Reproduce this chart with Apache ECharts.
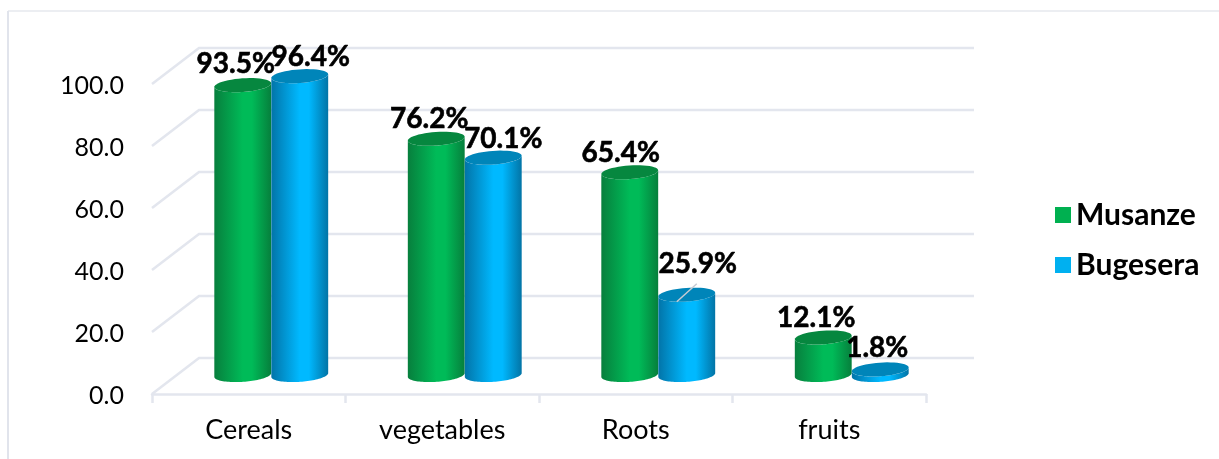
<!DOCTYPE html>
<html><head><meta charset="utf-8">
<style>html,body{margin:0;padding:0;background:#fff}#c{width:1219px;height:459px}</style>
<script src="https://cdn.jsdelivr.net/npm/echarts@6/dist/echarts.min.js"></script>
</head><body><div id="c"></div>
<script>
const categories = ['Cereals', 'vegetables', 'Roots', 'fruits'];
const musanze = [93.5, 76.2, 65.4, 12.1];
const bugesera = [96.4, 70.1, 25.9, 1.8];
const yTicks = [0, 20, 40, 60, 80, 100];

// Styling only: label nudges per bar [dx, dy], relative to the bar top
const musanzeLabelShift = [[-7, -21], [-7, -20], [-9, -19], [-7, -20]];
const bugeseraLabelShift = [[11, -19], [10, -19], [11, -31], [-3, -21]];

const FONT = 'Lato';
const GRID_COLOR = '#e3e6ee';
const WALL = [47, -36];   // depth offset of the back wall
const MID = [22.5, -19];  // depth offset of the bar row
const TILT = 4 * Math.PI / 180;
const RX = 28.5, RY = 6.8;

function ellipsePts(cx, cy, from, to) {
  const pts = [], n = 48;
  for (let i = 0; i <= n; i++) {
    const t = from + (to - from) * i / n;
    const x = RX * Math.cos(t), y = RY * Math.sin(t);
    pts.push([cx + x * Math.cos(TILT) + y * Math.sin(TILT),
              cy - x * Math.sin(TILT) + y * Math.cos(TILT)]);
  }
  return pts;
}
function cylinder(side, edgeL, mid, edgeR, cap) {
  return function (params, api) {
    const cat = api.value(0), v = api.value(1);
    const base = api.coord([cat, 0]), top = api.coord([cat, v]);
    const cx = base[0] + MID[0] + side * RX;
    const by = base[1] + MID[1], ty = top[1] + MID[1];
    const bottom = ellipsePts(cx, by, 0, Math.PI);
    const topArc = ellipsePts(cx, ty, Math.PI, 0);
    const grad = new echarts.graphic.LinearGradient(0, 0, 1, 0, [
      { offset: 0, color: edgeL }, { offset: 0.5, color: mid },
      { offset: 0.66, color: mid }, { offset: 1, color: edgeR }
    ]);
    return {
      type: 'group',
      children: [
        { type: 'polygon', shape: { points: bottom.concat(topArc) }, style: { fill: grad } },
        { type: 'polygon', shape: { points: ellipsePts(cx, ty, 0, 2 * Math.PI) }, style: { fill: cap } }
      ]
    };
  };
}
function labels(side, shifts, showLeader) {
  return function (params, api) {
    const i = params.dataIndex, cat = api.value(0), v = api.value(1);
    const base = api.coord([cat, 0]), top = api.coord([cat, v]);
    const cx = base[0] + MID[0] + side * RX, ty = top[1] + MID[1];
    const s = shifts[i];
    const kids = [{
      type: 'text', x: cx + s[0], y: ty + s[1],
      style: { text: v.toFixed(1) + '%', align: 'center', verticalAlign: 'middle',
               font: 'bold 28px ' + FONT, fill: '#000', stroke: '#000', lineWidth: 0.6 }
    }];
    if (showLeader(i)) {
      kids.push({ type: 'line', shape: { x1: cx - 10, y1: ty + 7, x2: cx + 10, y2: ty - 11 },
                  style: { stroke: '#c6cbd3', lineWidth: 1.5 } });
    }
    return { type: 'group', children: kids };
  };
}
function rows(values) { return values.map((v, i) => [i, v]); }

const chart = echarts.init(document.getElementById('c'), null, { renderer: 'canvas' });
chart.setOption({
  animation: false,
  backgroundColor: '#fff',
  graphic: [
    { type: 'line', z: 0, shape: { x1: 8, y1: 11, x2: 1219, y2: 11 }, style: { stroke: '#e6e8ee', lineWidth: 1.5 } },
    { type: 'line', z: 0, shape: { x1: 8, y1: 11, x2: 8, y2: 459 }, style: { stroke: '#e1e4ec', lineWidth: 2 } }
  ],
  grid: { left: 152, width: 774, top: 84, height: 310, containLabel: false },
  legend: {
    data: ['Musanze', 'Bugesera'], orient: 'vertical', left: 1050, top: 195,
    itemWidth: 16, itemHeight: 16, itemGap: 20, icon: 'rect', selectedMode: false,
    textStyle: { fontFamily: FONT, fontWeight: 'bold', fontSize: 30, color: '#000', padding: [0, 0, 0, 0] }
  },
  xAxis: {
    type: 'category', data: categories,
    axisLine: { lineStyle: { color: GRID_COLOR, width: 2.5 } },
    axisTick: { show: true, length: 9, lineStyle: { color: GRID_COLOR, width: 2.5 } },
    axisLabel: { margin: 23, fontFamily: FONT, fontSize: 27, color: '#000' }
  },
  yAxis: {
    type: 'value', min: 0, max: 100, interval: 20,
    axisLine: { show: false }, axisTick: { show: false }, splitLine: { show: false },
    axisLabel: { margin: 28, fontFamily: FONT, fontSize: 25, color: '#000', verticalAlign: 'top', lineHeight: 4,
                 formatter: v => v.toFixed(1) }
  },
  series: [
    {
      name: 'wall', type: 'custom', coordinateSystem: 'cartesian2d', z: 1, silent: true,
      data: yTicks.map(t => [0, t]),
      encode: { x: 0, y: 1 },
      renderItem(params, api) {
        const t = api.value(1);
        const left = api.coord([0, t]);
        const x0 = 152, x1 = 152 + 774;
        return {
          type: 'polyline',
          shape: { points: [[x0, left[1]], [x0 + WALL[0], left[1] + WALL[1]], [x1 + WALL[0] + 1, left[1] + WALL[1]]] },
          style: { stroke: GRID_COLOR, lineWidth: 2.5, fill: 'none' }
        };
      }
    },
    {
      name: 'Musanze', type: 'custom', coordinateSystem: 'cartesian2d', z: 3,
      itemStyle: { color: '#00b050' }, encode: { x: 0, y: 1 },
      data: rows(musanze),
      renderItem: cylinder(-1, '#077f3d', '#00bb58', '#067f3c', '#06873f')
    },
    {
      name: 'Bugesera', type: 'custom', coordinateSystem: 'cartesian2d', z: 4,
      itemStyle: { color: '#00b0f0' }, encode: { x: 0, y: 1 },
      data: rows(bugesera),
      renderItem: cylinder(1, '#0274a8', '#00b9ff', '#0274a6', '#0085b9')
    },
    {
      name: 'mLabels', type: 'custom', coordinateSystem: 'cartesian2d', z: 5, silent: true,
      encode: { x: 0, y: 1 }, data: rows(musanze),
      renderItem: labels(-1, musanzeLabelShift, () => false)
    },
    {
      name: 'bLabels', type: 'custom', coordinateSystem: 'cartesian2d', z: 5, silent: true,
      encode: { x: 0, y: 1 }, data: rows(bugesera),
      renderItem: labels(1, bugeseraLabelShift, i => categories[i] === 'Roots')
    }
  ]
});
</script></body></html>
